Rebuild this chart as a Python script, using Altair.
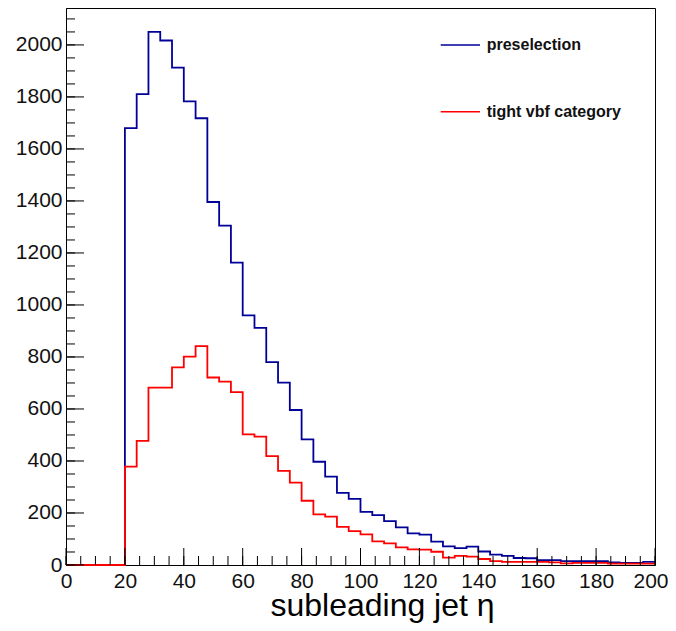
import altair as alt
import pandas as pd

# ---- data (bin width 4, bins from 0 to 200) ----
bin_width = 4
x_min, x_max = 0, 200

preselection = [
    0, 0, 0, 0, 0,
    1680, 1811, 2050, 2017, 1913, 1783, 1718, 1396, 1305, 1163,
    960, 912, 780, 701, 596, 483, 397, 340, 277, 254,
    204, 192, 169, 145, 122, 117, 90, 72, 65, 71,
    52, 40, 35, 27, 26, 19, 19, 15, 15, 15,
    15, 10, 8, 8, 12,
]
tight_vbf = [
    0, 0, 0, 0, 0,
    378, 477, 682, 682, 760, 801, 842, 721, 705, 665,
    502, 494, 419, 362, 317, 247, 195, 186, 147, 130,
    118, 91, 83, 68, 60, 59, 51, 28, 35, 32,
    23, 15, 12, 12, 12, 12, 10, 6, 8, 8,
    8, 5, 5, 5, 5,
]
series_names = ["preselection", "tight vbf category"]
series_colors = ["#000099", "#ff0000"]

x_tick_labels = list(range(0, 201, 20))
y_tick_labels = list(range(0, 2001, 200))
y_minor = list(range(0, 2101, 50))
x_minor = list(range(0, 201, 5))

Y_MAX = 2142
W, H = 589, 557
FONT = "Liberation Sans"


def step_frame(values):
    edges = [x_min + i * bin_width for i in range(len(values))] + [x_max]
    return pd.DataFrame({"x": edges, "y": list(values) + [values[-1]]})


xscale = alt.Scale(domain=[x_min, x_max], nice=False, zero=False)
yscale = alt.Scale(domain=[0, Y_MAX], nice=False)

last_label = f"datum.value == {x_max}"
x_axis = alt.Axis(
    values=x_tick_labels, format="d", grid=False, ticks=False, tickSize=0,
    labelFont=FONT, labelFontSize=21, labelColor="#111", labelPadding=5,
    labelAlign=alt.condition(last_label, alt.value("right"), alt.value("center")),
    labelOffset=alt.condition(last_label, alt.value(13), alt.value(0)),
    labelFlush=False, labelOverlap=False, domainColor="black",
    title="subleading jet η", titleFont=FONT, titleFontSize=32,
    titleFontWeight="normal", titleColor="black", titleX=316, titleY=50,
    titleAlign="center", titleBaseline="alphabetic",
)
y_axis = alt.Axis(
    values=y_tick_labels, format="d", grid=False, ticks=False, tickSize=0,
    labelFont=FONT, labelFontSize=21, labelColor="#111", labelPadding=4,
    labelFlush=False, labelOverlap=False, domainColor="black", title="",
)

layers = []
for vals, name, col in zip([preselection, tight_vbf], series_names, series_colors):
    layers.append(
        alt.Chart(step_frame(vals)).mark_line(
            interpolate="step-after", color=col, strokeWidth=1.8
        ).encode(
            x=alt.X("x:Q", scale=xscale, axis=x_axis),
            y=alt.Y("y:Q", scale=yscale, axis=y_axis),
        )
    )


# inner ticks (ROOT style)
def yticks(vals, length):
    return alt.Chart(pd.DataFrame({"y": vals})).mark_rule(color="black", strokeWidth=1).encode(
        y=alt.Y("y:Q", scale=yscale, axis=y_axis), x=alt.value(0), x2=alt.value(length)
    )


def xticks(vals, length):
    return alt.Chart(pd.DataFrame({"x": vals})).mark_rule(color="black", strokeWidth=1).encode(
        x=alt.X("x:Q", scale=xscale, axis=x_axis), y=alt.value(H), y2=alt.value(H - length)
    )


tick_layers = [yticks(y_minor, 9), yticks(y_tick_labels, 18), xticks(x_minor, 9), xticks(x_tick_labels, 17)]

# manual legend
legend_layers = []
legend_y = [42, 108.7]
for name, col, ly in zip(series_names, series_colors, legend_y):
    d = pd.DataFrame({"label": [name]})
    legend_layers.append(
        alt.Chart(d).mark_rule(color=col, strokeWidth=1.5).encode(
            x=alt.value(374.7), x2=alt.value(414), y=alt.value(ly - 5)
        )
    )
    legend_layers.append(
        alt.Chart(d).mark_text(
            align="left", baseline="alphabetic", font=FONT, fontSize=16,
            fontWeight="bold", color="#111"
        ).encode(text="label:N", x=alt.value(420.7), y=alt.value(ly))
    )

chart = alt.layer(*layers, *tick_layers, *legend_layers).properties(
    width=W, height=H,
    autosize=alt.AutoSizeParams(type="none"),
    padding={"left": 58, "top": 0, "right": 13, "bottom": 58},
    background="white",
).configure_view(stroke="black", strokeWidth=1)

chart.save("out.html", embed_options={"renderer": "svg", "actions": False})
